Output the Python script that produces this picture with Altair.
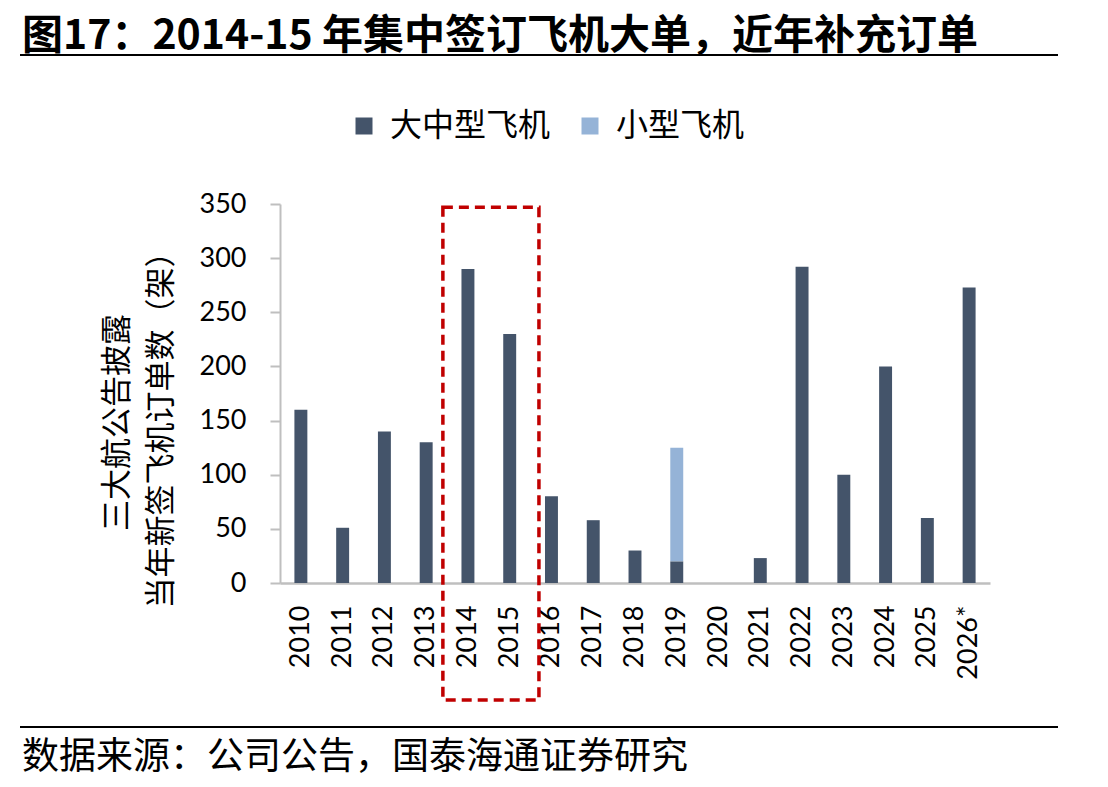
import altair as alt
import pandas as pd

# ---- data ----
years = ["2010", "2011", "2012", "2013", "2014", "2015", "2016", "2017", "2018",
         "2019", "2020", "2021", "2022", "2023", "2024", "2025", "2026*"]
large = [160, 51, 140, 130, 290, 230, 80, 58, 30, 20, 0, 23, 292, 100, 200, 60, 273]
small = [0, 0, 0, 0, 0, 0, 0, 0, 0, 105, 0, 0, 0, 0, 0, 0, 0]
series = ["大中型飞机", "小型飞机"]
colors = ["#44546A", "#95B3D7"]
y_ticks = [0, 50, 100, 150, 200, 250, 300, 350]

# highlight box (2014-2015) in band-index / value units
box_x = [3.9]
box_x2 = [6.2]
box_y = [347]
box_y2 = [-108]

title_text = "图17：2014-15 年集中签订飞机大单，近年补充订单"
source_text = "数据来源：公司公告，国泰海通证券研究"
y_title = ["三大航公告披露", "当年新签飞机订单数（架）"]

rows = []
for y, a, b in zip(years, large, small):
    if a > 0:
        rows.append({"year": y, "series": series[0], "value": a, "ord": 0})
    if b > 0:
        rows.append({"year": y, "series": series[1], "value": b, "ord": 1})
df = pd.DataFrame(rows)

W, H = 710, 379
LATIN = "Lato"
CJK = "Noto Sans CJK SC"

bars = alt.Chart(df).mark_bar().encode(
    x=alt.X("year:N", sort=years,
            scale=alt.Scale(domain=years, paddingInner=0.69, paddingOuter=0.345),
            axis=alt.Axis(title=None, labelAngle=-90, labelFont=LATIN, labelFontSize=27,
                          labelColor="#000000", labelPadding=22, ticks=False, tickSize=0,
                          domainColor="#BFBFBF", domainWidth=2.5, grid=False)),
    y=alt.Y("value:Q", stack="zero",
            scale=alt.Scale(domain=[0, 350], nice=False),
            axis=alt.Axis(values=y_ticks, title=y_title, titleFont=CJK, titleFontSize=31,
                          titleFontWeight="normal", titleColor="#000000", titleAngle=-90,
                          titleAlign="center", titleBaseline="top", titleX=-178, titleY=218,
                          titleLineHeight=44,
                          labelFont=LATIN, labelFontSize=27, labelColor="#000000",
                          labelPadding=24, tickSize=10, tickColor="#BFBFBF", tickWidth=2,
                          domainColor="#BFBFBF", domainWidth=2, grid=False)),
    color=alt.Color("series:N", scale=alt.Scale(domain=series, range=colors),
                    legend=alt.Legend(title=None, orient="none", direction="horizontal",
                                      legendX=68, legendY=-94, symbolType="square",
                                      symbolSize=289, symbolStrokeWidth=0,
                                      labelFont=CJK, labelFontSize=32, labelColor="#000000",
                                      labelLimit=400, labelOffset=10, columnPadding=23)),
    order=alt.Order("ord:Q"),
)

box_df = pd.DataFrame({"x": box_x, "x2": box_x2, "y": box_y, "y2": box_y2})
box = alt.Chart(box_df).mark_rect(fillOpacity=0, stroke="#C00000", strokeWidth=3.5,
                                  strokeDash=[10, 6]).encode(
    x=alt.X("x:Q", scale=alt.Scale(domain=[0, len(years)], nice=False, zero=False), axis=None),
    x2="x2:Q",
    y="y:Q",
    y2="y2:Q",
)

one = pd.DataFrame({"t": [0]})
title = alt.Chart(one).mark_text(text=title_text, font=CJK, fontSize=41, fontWeight="bold",
                                 align="left", baseline="alphabetic", color="#000000").encode(
    x=alt.value(-258), y=alt.value(-155))
source = alt.Chart(one).mark_text(text=source_text, font=CJK, fontSize=37,
                                  align="left", baseline="alphabetic", color="#000000").encode(
    x=alt.value(-258), y=alt.value(565))
rule_top = alt.Chart(one).mark_rule(color="#000000", strokeWidth=2).encode(
    x=alt.value(-260), x2=alt.value(778), y=alt.value(-149))
rule_bot = alt.Chart(one).mark_rule(color="#000000", strokeWidth=2).encode(
    x=alt.value(-260), x2=alt.value(778), y=alt.value(523))

chart = alt.layer(bars, box, title, source, rule_top, rule_bot).resolve_scale(
    x="independent"
).properties(
    width=W, height=H,
    autosize=alt.AutoSizeParams(type="none"),
    padding={"left": 280, "top": 204, "right": 118, "bottom": 204},
    background="#FFFFFF",
).configure_view(stroke=None)

chart.save("out.html", embed_options={"renderer": "svg", "actions": False})
